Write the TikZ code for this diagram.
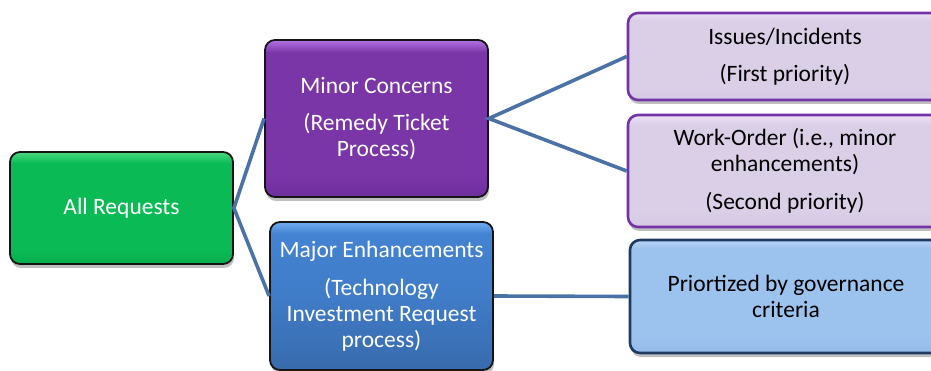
\documentclass[tikz,border=0pt]{standalone}
\usepackage{fontspec}
\setmainfont{Carlito}
\usetikzlibrary{shadows}
\definecolor{edgeCol}{HTML}{4A72A6}
\definecolor{darkLine}{HTML}{151515}
\definecolor{lavLine}{HTML}{7434A8}
\definecolor{lbLine}{HTML}{1F3B63}
\definecolor{gB}{HTML}{08AE4F}
\definecolor{gM}{HTML}{0ABB55}
\definecolor{gT}{HTML}{4CD880}
\definecolor{pB}{HTML}{6E2E9E}
\definecolor{pM}{HTML}{7A35A6}
\definecolor{pT}{HTML}{B272E6}
\definecolor{bB}{HTML}{386BAD}
\definecolor{bM}{HTML}{407CC8}
\definecolor{bN}{HTML}{4383D2}
\definecolor{bT}{HTML}{72ADF2}
\definecolor{lB}{HTML}{D4C7E3}
\definecolor{lM}{HTML}{DACFE7}
\definecolor{lT}{HTML}{EBE3F5}
\definecolor{qB}{HTML}{94BCEA}
\definecolor{qM}{HTML}{9CC2EE}
\definecolor{qT}{HTML}{B8D4F5}
% vertical shadings: 25bp = bottom of box, 75bp = top of box
\pgfdeclareverticalshading{grnshade}{100bp}{%
  color(0bp)=(gB); color(25bp)=(gB); color(32bp)=(gM);
  color(70bp)=(gM); color(75bp)=(gT); color(100bp)=(gT)}
\pgfdeclareverticalshading{purshade}{100bp}{%
  color(0bp)=(pB); color(25bp)=(pB); color(32bp)=(pM);
  color(71bp)=(pM); color(75bp)=(pT); color(100bp)=(pT)}
\pgfdeclareverticalshading{blushade}{100bp}{%
  color(0bp)=(bB); color(25bp)=(bB); color(50bp)=(bM);
  color(71bp)=(bN); color(75bp)=(bT); color(100bp)=(bT)}
\pgfdeclareverticalshading{lavshade}{100bp}{%
  color(0bp)=(lB); color(25bp)=(lB); color(32bp)=(lM);
  color(71bp)=(lM); color(75bp)=(lT); color(100bp)=(lT)}
\pgfdeclareverticalshading{lbshade}{100bp}{%
  color(0bp)=(qB); color(25bp)=(qB); color(32bp)=(qM);
  color(71bp)=(qM); color(75bp)=(qT); color(100bp)=(qT)}
\tikzset{
  box/.style={rectangle, rounded corners=10pt, inner sep=0pt, align=center,
    font=\fontsize{23.5}{26}\selectfont,
    drop shadow={shadow xshift=1pt, shadow yshift=-4pt, opacity=0.25, fill=black}},
  darkbox/.style={box, draw=darkLine, line width=1.8pt, text=white},
  greenbox/.style={darkbox, shading=grnshade},
  purplebox/.style={darkbox, shading=purshade},
  bluebox/.style={darkbox, shading=blushade},
  lavbox/.style={box, draw=lavLine, line width=2.6pt, text=black, shading=lavshade},
  lbbox/.style={box, draw=lbLine, line width=2.6pt, text=black, shading=lbshade},
  link/.style={draw=edgeCol, line width=3.6pt}
}
\begin{document}
\begin{tikzpicture}[x=1pt,y=-1pt]
\useasboundingbox (0,0) rectangle (931,371);
\begin{scope}
\clip (0,0) rectangle (931,371);
\node[greenbox, minimum width=223pt, minimum height=112pt] (all) at (121.5,208) {All Requests};
\node[purplebox, minimum width=223pt, minimum height=157pt] (minor) at (376.5,118.5)
  {Minor Concerns\\[11pt](Remedy Ticket\\Process)};
\node[bluebox, minimum width=223pt, minimum height=148pt] (major) at (381.5,296)
  {Major Enhancements\\[12pt](Technology\\Investment Request\\process)};
\node[lavbox, minimum width=314pt, minimum height=87pt] (issues) at (785,56.5)
  {Issues/Incidents\\[11pt](First priority)};
\node[lavbox, minimum width=314pt, minimum height=112pt] (work) at (785,171)
  {Work-Order (i.e., minor\\enhancements)\\[12pt](Second priority)};
\node[lbbox, minimum width=312pt, minimum height=113pt] (prio) at (786,296.5)
  {Priortized by governance\\criteria};
\draw[link] (minor.west) -- (all.east) -- (major.west);
\draw[link] (issues.west) -- (minor.east) -- (work.west);
\draw[link] (major.east) -- (prio.west);
\end{scope}
\end{tikzpicture}
\end{document}
